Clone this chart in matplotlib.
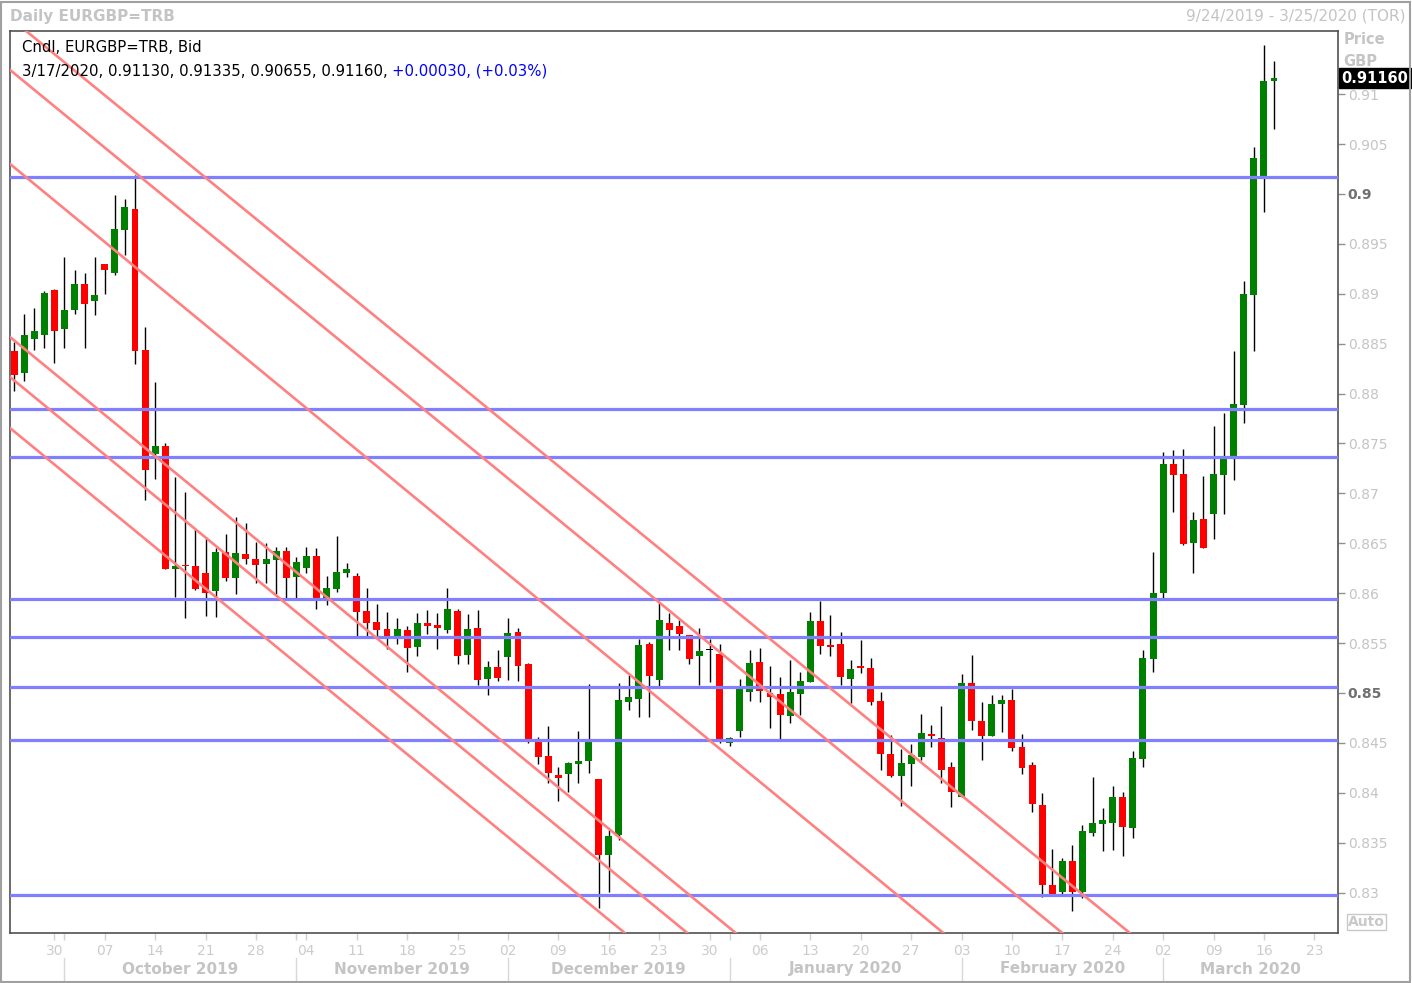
import numpy as np
import matplotlib.pyplot as plt
import matplotlib.patches as patches
from matplotlib.transforms import blended_transform_factory

# Daily EURGBP candles, one per weekday from 9/24/2019 to 3/17/2020
opens = [0.88427, 0.88209, 0.88547, 0.88587, 0.89038, 0.88647, 0.88838, 0.89098, 0.88928, 0.89299,
         0.89208, 0.89639, 0.89850, 0.88437, 0.87391, 0.87475, 0.86246, 0.86283, 0.86273, 0.86202,
         0.86025, 0.86413, 0.86155, 0.86393, 0.86343, 0.86293, 0.86333, 0.86423, 0.86162, 0.86255,
         0.86373, 0.85956, 0.86042, 0.86205, 0.86172, 0.85822, 0.85711, 0.85641, 0.85571, 0.85631,
         0.85461, 0.85701, 0.85681, 0.85631, 0.85822, 0.85381, 0.85651, 0.85140, 0.85261, 0.85361,
         0.85611, 0.85291, 0.84509, 0.84369, 0.84178, 0.84188, 0.84289, 0.84319, 0.84138, 0.83377,
         0.83577, 0.84910, 0.84940, 0.85491, 0.85130, 0.85701, 0.85671, 0.85581, 0.85371, 0.85428,
         0.85391, 0.84502, 0.84622, 0.85013, 0.85311, 0.85000, 0.84990, 0.84773, 0.84993, 0.85113,
         0.85721, 0.85481, 0.85491, 0.85143, 0.85271, 0.85251, 0.84920, 0.84389, 0.84171, 0.84292,
         0.84362, 0.84579, 0.84549, 0.84259, 0.83961, 0.85100, 0.84719, 0.84572, 0.84893, 0.84930,
         0.84459, 0.84279, 0.83878, 0.83076, 0.83003, 0.83317, 0.83003, 0.83597, 0.83687, 0.83697,
         0.83958, 0.83647, 0.84339, 0.85341, 0.86002, 0.87295, 0.87194, 0.86503, 0.86743, 0.86794,
         0.87184, 0.87375, 0.87886, 0.88988, 0.90180, 0.91130]
highs = [0.88520, 0.88798, 0.88858, 0.89028, 0.89048, 0.89369, 0.89238, 0.89208, 0.89369, 0.89299,
         0.89990, 0.89950, 0.90190, 0.88670, 0.88119, 0.87502, 0.87164, 0.87014, 0.86643, 0.86563,
         0.86453, 0.86593, 0.86764, 0.86703, 0.86513, 0.86503, 0.86463, 0.86463, 0.86363, 0.86463,
         0.86453, 0.86172, 0.86573, 0.86303, 0.86202, 0.86052, 0.85892, 0.85812, 0.85752, 0.85671,
         0.85802, 0.85832, 0.85802, 0.86052, 0.85842, 0.85792, 0.85832, 0.85321, 0.85431, 0.85752,
         0.85651, 0.85301, 0.84559, 0.84669, 0.84259, 0.84309, 0.84619, 0.85090, 0.84138, 0.83627,
         0.85100, 0.85180, 0.85541, 0.85511, 0.85912, 0.85802, 0.85731, 0.85581, 0.85651, 0.85538,
         0.85491, 0.84559, 0.85140, 0.85431, 0.85451, 0.85271, 0.85160, 0.85331, 0.85210, 0.85812,
         0.85922, 0.85782, 0.85611, 0.85331, 0.85531, 0.85351, 0.85010, 0.84579, 0.84439, 0.84489,
         0.84790, 0.84679, 0.84870, 0.84309, 0.85190, 0.85381, 0.84910, 0.84980, 0.84980, 0.85040,
         0.84589, 0.84309, 0.83998, 0.83437, 0.83347, 0.83477, 0.83677, 0.84158, 0.83848, 0.84068,
         0.84008, 0.84419, 0.85431, 0.86413, 0.87415, 0.87435, 0.87445, 0.86814, 0.87174, 0.87675,
         0.87806, 0.88427, 0.89128, 0.90471, 0.91493, 0.91335]
lows = [0.88029, 0.88129, 0.88437, 0.88460, 0.88310, 0.88460, 0.88798, 0.88457, 0.88788, 0.88998,
        0.89188, 0.89389, 0.88297, 0.86934, 0.87144, 0.86242, 0.85965, 0.85754, 0.86032, 0.85775,
        0.85765, 0.86125, 0.85995, 0.86293, 0.86105, 0.86105, 0.85995, 0.85956, 0.85956, 0.86205,
        0.85845, 0.85885, 0.86015, 0.86165, 0.85571, 0.85571, 0.85571, 0.85441, 0.85491, 0.85210,
        0.85371, 0.85591, 0.85441, 0.85601, 0.85291, 0.85291, 0.85080, 0.84980, 0.85120, 0.85130,
        0.85120, 0.84499, 0.84289, 0.84098, 0.83914, 0.84008, 0.84098, 0.84198, 0.82846, 0.83006,
        0.83527, 0.84830, 0.84760, 0.84760, 0.85060, 0.85431, 0.85431, 0.85291, 0.85080, 0.85110,
        0.84499, 0.84472, 0.84562, 0.84923, 0.84913, 0.84652, 0.84539, 0.84702, 0.84783, 0.85113,
        0.85394, 0.85374, 0.85083, 0.84900, 0.85203, 0.84883, 0.84231, 0.84162, 0.83871, 0.84071,
        0.84332, 0.84462, 0.84101, 0.83861, 0.83961, 0.84632, 0.84332, 0.84572, 0.84612, 0.84422,
        0.84192, 0.83811, 0.82953, 0.82986, 0.82986, 0.82819, 0.82943, 0.83567, 0.83413, 0.83427,
        0.83367, 0.83547, 0.84255, 0.85210, 0.85952, 0.86814, 0.86483, 0.86202, 0.86453, 0.86543,
        0.86794, 0.87134, 0.87705, 0.88427, 0.89820, 0.90655]
closes = [0.88186, 0.88587, 0.88624, 0.89008, 0.88627, 0.88838, 0.89098, 0.88898, 0.88988, 0.89238,
          0.89649, 0.89870, 0.88427, 0.87234, 0.87475, 0.86242, 0.86275, 0.86273, 0.86042, 0.86002,
          0.86413, 0.86155, 0.86403, 0.86343, 0.86283, 0.86343, 0.86423, 0.86155, 0.86313, 0.86373,
          0.85956, 0.86052, 0.86212, 0.86242, 0.85815, 0.85704, 0.85631, 0.85571, 0.85641, 0.85451,
          0.85701, 0.85671, 0.85651, 0.85842, 0.85371, 0.85641, 0.85130, 0.85261, 0.85150, 0.85601,
          0.85271, 0.84529, 0.84359, 0.84198, 0.84148, 0.84299, 0.84319, 0.84509, 0.83377, 0.83567,
          0.84930, 0.84960, 0.85481, 0.85170, 0.85731, 0.85631, 0.85591, 0.85341, 0.85421, 0.85428,
          0.84539, 0.84549, 0.85040, 0.85301, 0.85023, 0.84963, 0.84783, 0.85010, 0.85120, 0.85721,
          0.85474, 0.85464, 0.85163, 0.85240, 0.85254, 0.84913, 0.84392, 0.84171, 0.84299, 0.84379,
          0.84599, 0.84572, 0.84231, 0.84011, 0.85100, 0.84722, 0.84572, 0.84894, 0.84930, 0.84452,
          0.84251, 0.83891, 0.83073, 0.82986, 0.83317, 0.83003, 0.83617, 0.83697, 0.83727, 0.83958,
          0.83657, 0.84349, 0.85351, 0.86002, 0.87295, 0.87184, 0.86493, 0.86733, 0.86453, 0.87194,
          0.87345, 0.87896, 0.88998, 0.90361, 0.91130, 0.91160]

# horizontal support / resistance levels
levels = [0.90167, 0.87843, 0.87362, 0.85939, 0.85558, 0.85057, 0.84526, 0.82973]

# descending trend lines: (day0, price0, day1, price1)
trend_lines = [
    (1.2, 0.91633, 110.7, 0.82595),
    (-0.4, 0.91243, 104.0, 0.82595),
    (-0.4, 0.90301, 92.2, 0.82595),
    (-0.4, 0.88567, 71.6, 0.82595),
    (-0.4, 0.88166, 66.8, 0.82595),
    (-0.4, 0.87655, 60.6, 0.82595),
]

# x axis: weekday index from 9/24/2019
day_ticks = [4, 9, 14, 19, 24, 29, 34, 39, 44, 49, 54, 59, 64, 69, 74, 79, 84, 89,
             94, 99, 104, 109, 114, 119, 124, 129]
day_labels = ['30', '07', '14', '21', '28', '04', '11', '18', '25', '02', '09', '16', '23',
              '30', '06', '13', '20', '27', '03', '10', '17', '24', '02', '09', '16', '23']
month_starts = [5, 28, 49, 71, 94, 114]
month_labels = ['October 2019', 'November 2019', 'December 2019', 'January 2020',
                'February 2020', 'March 2020']

price_ticks = [0.83, 0.835, 0.84, 0.845, 0.85, 0.855, 0.86, 0.865, 0.87, 0.875, 0.88,
               0.885, 0.89, 0.895, 0.9, 0.905, 0.91]
price_labels = ['0.83', '0.835', '0.84', '0.845', '0.85', '0.855', '0.86', '0.865', '0.87',
                '0.875', '0.88', '0.885', '0.89', '0.895', '0.9', '0.905', '0.91']

plt.rcParams['font.family'] = ['DejaVu Sans']
light = '#c4c4c4'
frame = '#505050'

W, H = 1412, 983
fig = plt.figure(figsize=(W / 100, H / 100), dpi=100)
ax = fig.add_axes([10 / W, 50 / H, 1328 / W, 902 / H])
x_max = 131.35
ax.set_xlim(-0.4, x_max)
ax.set_ylim(0.82595, 0.91633)

# candles
o = np.array(opens)
c = np.array(closes)
x = np.arange(len(o))
cols = np.where(c > o, '#008000', np.where(c < o, '#ff0000', '#000000'))
ax.vlines(x, lows, highs, color='black', lw=1, zorder=2)
bottoms = np.minimum(o, c)
heights = np.maximum(np.abs(c - o), 0.00012)
ax.bar(x, heights, 0.69, bottom=bottoms, color=cols, zorder=2.5, linewidth=0)

# lines on top of candles
for lv in levels:
    ax.axhline(lv, color='#8080ff', lw=2.3, zorder=4)
for x0, p0, x1, p1 in trend_lines:
    s = (p1 - p0) / (x1 - x0)
    xs = np.array([-5, 140])
    ax.plot(xs, p0 + s * (xs - x0), color='#ff8080', lw=1.9, zorder=4)

for sp in ax.spines.values():
    sp.set_color(frame)
    sp.set_linewidth(1.2)

# right price axis
ax.yaxis.tick_right()
ax.set_yticks(price_ticks)
ax.set_yticklabels(price_labels)
ax.tick_params(axis='y', length=5, width=1, color='#909090', pad=2, labelsize=10,
               labelcolor=light)
for lab in ax.get_yticklabels():
    if lab.get_text() in ('0.9', '0.85'):
        lab.set_color('#707070')
        lab.set_fontweight('bold')

# bottom date axis
ax.set_xticks(day_ticks)
ax.set_xticklabels(day_labels)
ax.tick_params(axis='x', length=5, width=1, color='#d0d0d0', pad=3, labelsize=10,
               labelcolor='#cccccc')
ax.set_xticks(month_starts, minor=True)
ax.tick_params(axis='x', which='minor', length=5, width=1, color='#d0d0d0')

trans = blended_transform_factory(ax.transData, fig.transFigure)
bounds = month_starts + [x_max]
for k, lab in enumerate(month_labels):
    mid = (bounds[k] + bounds[k + 1]) / 2
    ax.text(mid, 14 / H, lab, transform=trans, ha='center', va='center', fontsize=11,
            fontweight='bold', color=light)
    ax.plot([month_starts[k], month_starts[k]], [3 / H, 25 / H], transform=trans,
            color='#d8d8d8', lw=1, clip_on=False)

# header texts
fig.text(10 / W, 1 - 16 / H, 'Daily EURGBP=TRB', fontsize=11, fontweight='bold',
         color=light, va='center', ha='left')
fig.text(1405 / W, 1 - 16 / H, '9/24/2019 - 3/25/2020 (TOR)', fontsize=11,
         color=light, va='center', ha='right')
ax.text(12 / 1328, 1 - 17 / 902, 'Cndl, EURGBP=TRB, Bid', transform=ax.transAxes,
        fontsize=10.7, va='center', ha='left', zorder=6)
t1 = ax.text(12 / 1328, 1 - 40 / 902, '3/17/2020, 0.91130, 0.91335, 0.90655, 0.91160, ',
             transform=ax.transAxes, fontsize=10.7, va='center', ha='left', zorder=6)
ax.annotate('+0.00030, (+0.03%)', xy=(1, 0.5), xycoords=t1, va='center', ha='left',
            fontsize=10.7, color='#0000ff', zorder=6)

# price labels at the top of the right axis
fig.text(1344 / W, 1 - 40 / H, 'Price', fontsize=10.5, fontweight='bold', color=light,
         va='center', ha='left')
fig.text(1343 / W, 1 - 62 / H, 'GBP', fontsize=10.5, fontweight='bold', color=light,
         va='center', ha='left')
ax.annotate('0.91160', xy=(1, closes[-1]), xycoords=('axes fraction', 'data'),
            xytext=(2.5, 0), textcoords='offset points', va='center', ha='left',
            fontsize=10.5, fontweight='bold', color='white', zorder=10,
            bbox=dict(boxstyle='square,pad=0.18', fc='black', ec='black'),
            annotation_clip=False)
fig.text(1348 / W, 1 - 922 / H, 'Auto', fontsize=10, fontweight='bold', color='#c8c8c8',
         va='center', ha='left',
         bbox=dict(boxstyle='square,pad=0.1', fc='white', ec='#c8c8c8', lw=1))

# outer frame of the window
fig.patches.append(patches.Rectangle((1 / W, 1 / H), 1 - 3 / W, 1 - 3 / H,
                                     transform=fig.transFigure, fill=False,
                                     ec='#a0a0a0', lw=1.5))

fig.savefig('out.png', dpi=100)
